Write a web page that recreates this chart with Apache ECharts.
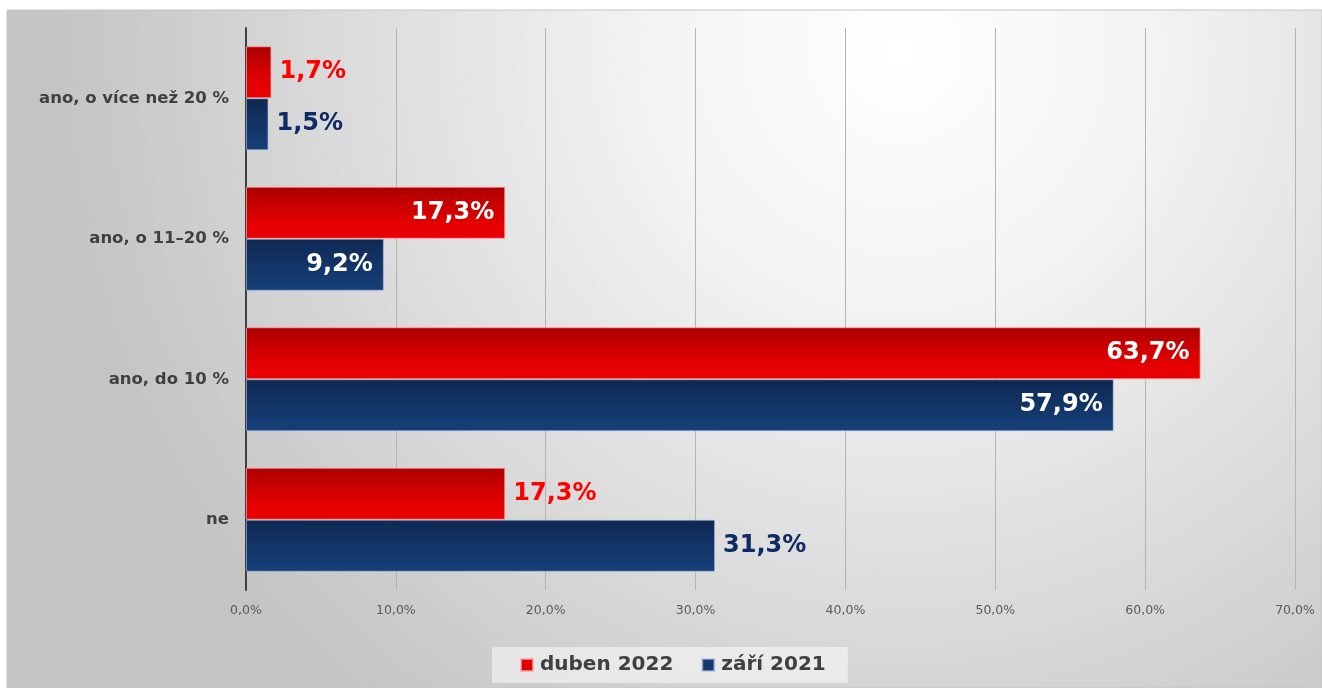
<!DOCTYPE html>
<html>
<head>
<meta charset="utf-8">
<script src="https://cdn.jsdelivr.net/npm/echarts@6/dist/echarts.min.js"></script>
<style>
  html, body { margin: 0; padding: 0; background: #fff; }
  #chart { width: 1322px; height: 688px; }
</style>
</head>
<body>
<div id="chart"></div>
<script>
// kategorie (shora dolů)
var categories = ['ano, o více než 20 %', 'ano, o 11–20 %', 'ano, do 10 %', 'ne'];
// řady
var seriesNames = ['duben 2022', 'září 2021'];
var duben2022 = [1.7, 17.3, 63.7, 17.3];
var zari2021 = [1.5, 9.2, 57.9, 31.3];
// popisky osy x
var xTicks = [0, 10, 20, 30, 40, 50, 60, 70];

// kategorie, kde je popisek uvnitř sloupce
var insideIdx = [1, 2];

function fmt(v) {
    return v.toFixed(1).replace('.', ',') + '%';
}

function buildData(values, outColor) {
    return values.map(function (v, i) {
        var inside = insideIdx.indexOf(i) >= 0;
        return {
            value: v,
            label: {
                position: inside ? 'insideRight' : 'right',
                distance: inside ? 11 : 8,
                color: inside ? '#ffffff' : outColor
            }
        };
    });
}

var redGrad = new echarts.graphic.LinearGradient(0, 0, 0, 1, [
    { offset: 0, color: '#ac0000' },
    { offset: 0.7, color: '#e40000' },
    { offset: 1, color: '#ea0000' }
]);
var blueGrad = new echarts.graphic.LinearGradient(0, 0, 0, 1, [
    { offset: 0, color: '#0f2852' },
    { offset: 1, color: '#16407a' }
]);

var myChart = echarts.init(document.getElementById('chart'));
myChart.setOption({
    backgroundColor: '#ffffff',
    animation: false,
    graphic: [
        {
            type: 'rect',
            z: -10,
            shape: { x: 7, y: 10, width: 1315, height: 678 },
            style: {
                fill: new echarts.graphic.RadialGradient(0.68, 0.06, 1.25, [
                    { offset: 0, color: '#ffffff' },
                    { offset: 0.3, color: '#f3f3f3' },
                    { offset: 1, color: '#c4c4c4' }
                ]),
                stroke: '#c4c4c4',
                lineWidth: 1
            }
        }
    ],
    grid: { left: 246, right: 27, top: 28, bottom: 98 },
    legend: {
        left: 492,
        top: 647,
        backgroundColor: 'rgba(255,255,255,0.5)',
        padding: [8, 22, 8, 28],
        itemWidth: 12,
        itemHeight: 12,
        itemGap: 28,
        icon: 'rect',
        textStyle: {
            fontFamily: 'DejaVu Sans',
            fontWeight: 'bold',
            fontSize: 20,
            color: '#404040',
            padding: [0, 0, 0, 2]
        },
        data: [
            { name: seriesNames[0], itemStyle: { color: '#e00000' } },
            { name: seriesNames[1], itemStyle: { color: '#17386c' } }
        ]
    },
    xAxis: {
        type: 'value',
        min: xTicks[0],
        max: xTicks[xTicks.length - 1],
        interval: 10,
        axisLine: { show: false },
        axisTick: { show: false },
        splitLine: { show: true, lineStyle: { color: '#b4b4b4', width: 1 } },
        axisLabel: {
            margin: 14,
            color: '#595959',
            fontFamily: 'DejaVu Sans',
            fontSize: 12.5,
            formatter: function (v) { return fmt(v); }
        }
    },
    yAxis: {
        type: 'category',
        inverse: true,
        data: categories,
        axisLine: { show: true, lineStyle: { color: '#404040', width: 2 } },
        axisTick: { show: false },
        axisLabel: {
            margin: 17,
            color: '#404040',
            fontFamily: 'DejaVu Sans',
            fontWeight: 'bold',
            fontSize: 16.5
        }
    },
    series: [
        {
            name: seriesNames[0],
            type: 'bar',
            barGap: '0%',
            barCategoryGap: '26%',
            itemStyle: { color: redGrad, borderColor: 'rgba(255,170,170,0.7)', borderWidth: 1 },
            label: {
                show: true,
                fontFamily: 'DejaVu Sans',
                fontWeight: 'bold',
                fontSize: 24,
                formatter: function (p) { return fmt(p.value); }
            },
            data: buildData(duben2022, '#ff0000')
        },
        {
            name: seriesNames[1],
            type: 'bar',
            barGap: '0%',
            barCategoryGap: '26%',
            itemStyle: { color: blueGrad, borderColor: 'rgba(170,190,230,0.6)', borderWidth: 1 },
            label: {
                show: true,
                fontFamily: 'DejaVu Sans',
                fontWeight: 'bold',
                fontSize: 24,
                formatter: function (p) { return fmt(p.value); }
            },
            data: buildData(zari2021, '#0d2b66')
        }
    ]
});
</script>
</body>
</html>
